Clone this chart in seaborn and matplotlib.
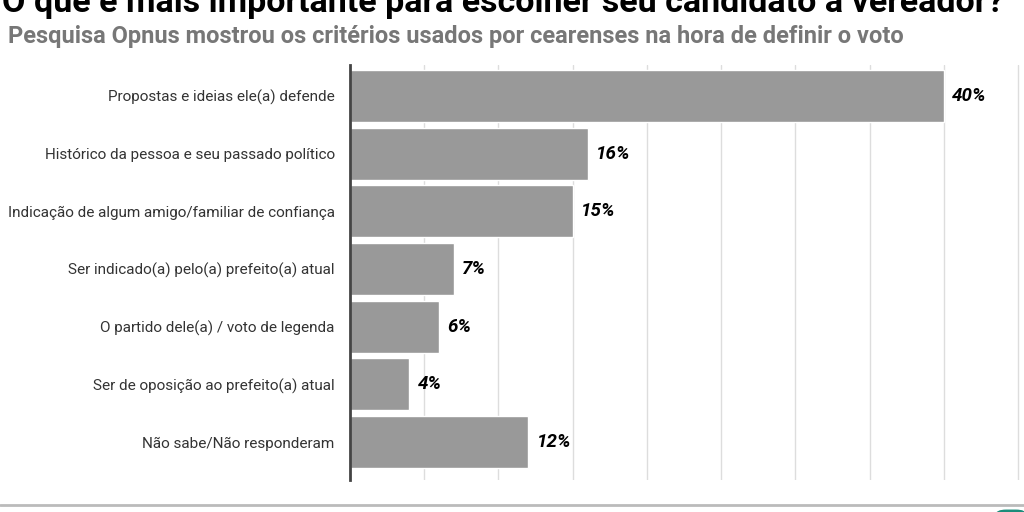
import seaborn as sns
import matplotlib.pyplot as plt
import pandas as pd
from matplotlib.lines import Line2D
from matplotlib.patches import FancyBboxPatch

# Pesquisa Opnus - critérios para escolher vereador

criterios = [
    "Propostas e ideias ele(a) defende",
    "Histórico da pessoa e seu passado político",
    "Indicação de algum amigo/familiar de confiança",
    "Ser indicado(a) pelo(a) prefeito(a) atual",
    "O partido dele(a) / voto de legenda",
    "Ser de oposição ao prefeito(a) atual",
    "Não sabe/Não responderam",
]
percentuais = [40, 16, 15, 7, 6, 4, 12]

titulo = "O que é mais importante para escolher seu candidato a vereador?"
subtitulo = "Pesquisa Opnus mostrou os critérios usados por cearenses na hora de definir o voto"

df = pd.DataFrame({"Critério": criterios, "Percentual": percentuais})

sns.set_theme(style="white")
plt.rcParams["font.family"] = ["Roboto", "DejaVu Sans"]

fig = plt.figure(figsize=(10.24, 5.12), dpi=100)
ax = fig.add_axes([350 / 1024, 32 / 512, 1 - 350 / 1024, (480 - 65) / 512])

sns.barplot(
    data=df,
    x="Percentual",
    y="Critério",
    orient="h",
    color="#999999",
    saturation=1,
    width=0.9,
    ax=ax,
)

ax.set_xlim(0, 45.4)
ax.set_ylim(6.66, -0.54)
ax.set_xticks(range(5, 46, 5))
ax.xaxis.grid(True, color="#dddddd", linewidth=1)
ax.set_axisbelow(True)
ax.tick_params(axis="x", length=0, labelbottom=False)
ax.tick_params(axis="y", length=0, pad=11, labelsize=11, labelcolor="#333333")
for s in ["top", "right", "bottom"]:
    ax.spines[s].set_visible(False)
ax.spines["left"].set_color("#444444")
ax.spines["left"].set_linewidth(2)
ax.set(xlabel=None, ylabel=None)

ax.bar_label(
    ax.containers[0],
    labels=[f"{v}%" for v in percentuais],
    padding=6,
    fontsize=13.5,
    fontweight="bold",
    fontstyle="italic",
    color="black",
)

fig.text(2 / 1024, 1 - 12 / 512, titulo, fontsize=24.5, fontweight="bold",
         color="black", va="baseline", ha="left")
fig.text(8 / 1024, 1 - 43 / 512, subtitulo, fontsize=17, fontweight="bold",
         color="#777777", va="baseline", ha="left")

fig.add_artist(Line2D([0, 1], [1 - 505 / 512] * 2, color="#bbbbbb", linewidth=2,
                      transform=fig.transFigure))
fig.add_artist(FancyBboxPatch((996 / 1024, -0.02), 30 / 1024, 12 / 512,
                              boxstyle="round,pad=0,rounding_size=0.01",
                              transform=fig.transFigure, color="#1a8c7a"))

fig.savefig("out.png", dpi=100)
plt.close()
